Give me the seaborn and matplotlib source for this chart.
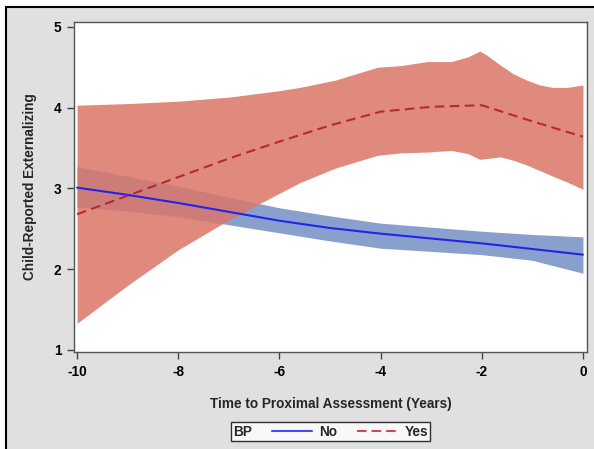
import numpy as np
import pandas as pd
import matplotlib
matplotlib.use("Agg")
import matplotlib.pyplot as plt
from matplotlib.patches import Rectangle
from matplotlib.lines import Line2D
import seaborn as sns

# ---- data ----
time = [-10, -9, -8, -7, -6, -5, -4, -3, -2, -1, 0]
no_mean = [3.01, 2.92, 2.82, 2.71, 2.60, 2.51, 2.44, 2.38, 2.32, 2.25, 2.18]
no_upper = [3.27, 3.15, 3.03, 2.89, 2.76, 2.66, 2.57, 2.52, 2.47, 2.43, 2.40]
no_lower = [2.77, 2.72, 2.65, 2.55, 2.45, 2.35, 2.26, 2.22, 2.18, 2.11, 1.95]

yes_time = [-10, -9, -8, -7, -6, -5, -4, -3, -2, -1, 0]
yes_mean = [2.68, 2.91, 3.14, 3.37, 3.58, 3.78, 3.95, 4.01, 4.03, 3.83, 3.64]

band_time = [-10, -9, -8, -7, -6, -5.6, -4.9, -4.06, -3.6, -3.08, -2.6, -2.27, -2.04,
             -1.9, -1.64, -1.38, -1.11, -0.85, -0.59, -0.32, 0]
yes_upper = [4.03, 4.05, 4.08, 4.13, 4.21, 4.25, 4.34, 4.50, 4.52, 4.57, 4.57, 4.63, 4.70,
             4.65, 4.53, 4.42, 4.34, 4.28, 4.25, 4.25, 4.28]
yes_lower = [1.33, 1.80, 2.24, 2.61, 2.94, 3.07, 3.25, 3.41, 3.44, 3.45, 3.47, 3.43, 3.36,
             3.37, 3.39, 3.35, 3.29, 3.22, 3.15, 3.08, 2.99]

groups = ["No", "Yes"]
x_ticks = [-10, -8, -6, -4, -2, 0]
y_ticks = [1, 2, 3, 4, 5]

df = pd.concat([
    pd.DataFrame({"Time": time, "Value": no_mean, "BP": "No"}),
    pd.DataFrame({"Time": yes_time, "Value": yes_mean, "BP": "Yes"}),
], ignore_index=True)

sns.set_theme(style="white")
plt.rcParams["font.family"] = ["Liberation Sans", "DejaVu Sans"]

FS = 9.8

fig = plt.figure(figsize=(5.94, 4.49), dpi=100)
fig.patch.set_facecolor("white")
bg = Rectangle((6 / 594, -0.1), 1.2, (442 / 449) + 0.1, transform=fig.transFigure,
               facecolor="#e0e0e0", edgecolor="black", linewidth=1.5, zorder=-10)
fig.patches.append(bg)

ax = fig.add_axes([74 / 594, 1 - 352 / 449, (587 - 74) / 594, (352 - 22) / 449])
ax.set_facecolor("white")

blue_fill = "#8aa0cc"
red_fill = "#db7668"
blue_line = "#2424e6"
red_line = "#b8263a"

ax.fill_between(time, no_lower, no_upper, color=blue_fill, linewidth=0, zorder=1)
ax.fill_between(band_time, yes_lower, yes_upper, color=red_fill, alpha=0.85, linewidth=0, zorder=2)

sns.lineplot(data=df, x="Time", y="Value", hue="BP", style="BP",
             palette={"No": blue_line, "Yes": red_line},
             dashes={"No": "", "Yes": (4.6, 2.6)}, linewidth=1.5,
             legend=False, ax=ax, zorder=3)

ax.set_xlim(-10.06, 0.08)
ax.set_ylim(0.975, 5.06)
ax.set_xticks(x_ticks)
ax.set_yticks(y_ticks)
ax.set_xticklabels([str(v) for v in x_ticks], fontweight="bold", fontsize=FS)
ax.set_yticklabels([str(v) for v in y_ticks], fontweight="bold", fontsize=FS)
ax.tick_params(axis="both", which="both", direction="out", length=5, width=1,
               color="#444444", pad=4, bottom=True, left=True, labelcolor="black")
for s in ax.spines.values():
    s.set_color("#555555")
    s.set_linewidth(1)
ax.set_xlabel("Time to Proximal Assessment (Years)", fontweight="bold", fontsize=FS, labelpad=13)
ax.set_ylabel("Child-Reported Externalizing", fontweight="bold", fontsize=FS, labelpad=12)

handles = [Line2D([], [], color="#4848f0", lw=1.5),
           Line2D([], [], color="#d04858", lw=1.5, ls=(0, (4.6, 2.4)))]
leg = fig.legend(handles, groups, title="BP", loc="center",
                 bbox_to_anchor=(330.5 / 594, 1 - 431.5 / 449), ncol=2,
                 frameon=True, fancybox=False, edgecolor="black", facecolor="white",
                 fontsize=FS, title_fontsize=FS, handlelength=3.0, handletextpad=0.5,
                 columnspacing=0.8, borderpad=0.2, borderaxespad=0)
leg.get_frame().set_linewidth(1)
for t in leg.get_texts():
    t.set_fontweight("bold")
leg.get_title().set_fontweight("bold")
c = leg.get_children()[0]
title_box = c.get_children()[0]
hpack = c.get_children()[1]
c._children = [hpack]
hpack._children = [title_box] + hpack.get_children()
hpack.sep = 14

fig.savefig("out.png", dpi=100, facecolor=fig.get_facecolor())
